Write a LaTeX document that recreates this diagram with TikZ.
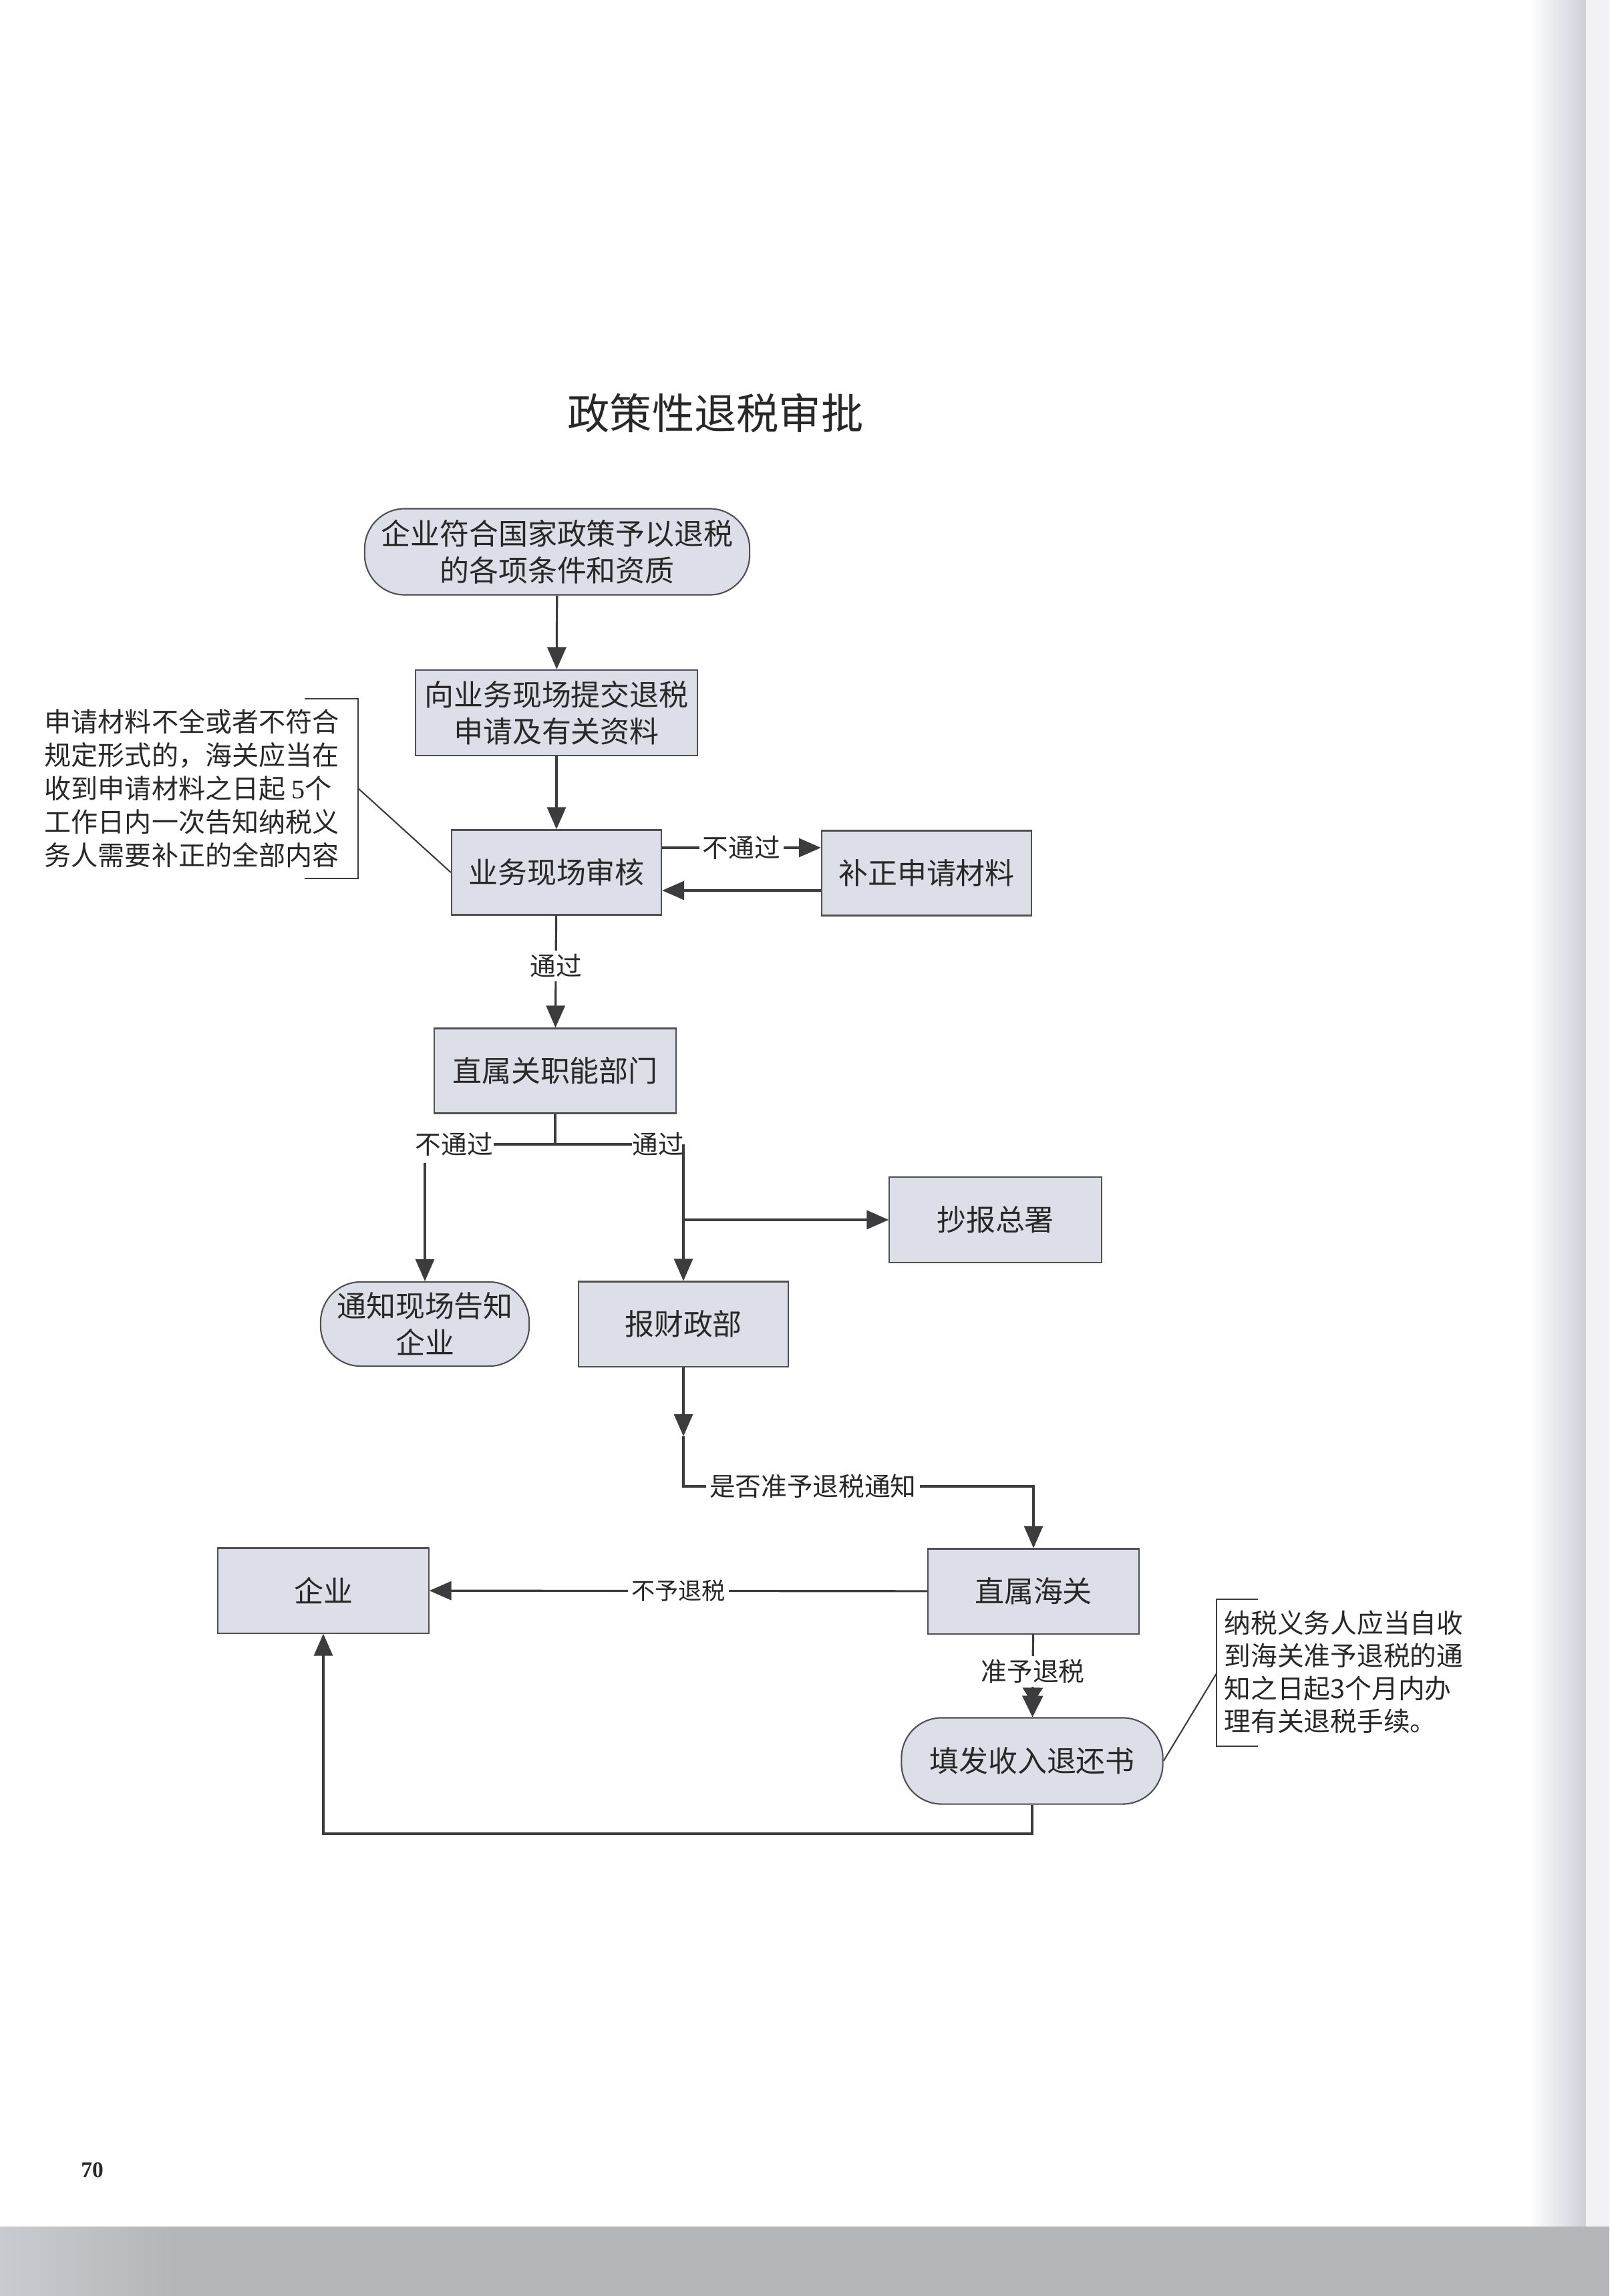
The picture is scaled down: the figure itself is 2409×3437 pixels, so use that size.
\documentclass[tikz,border=0pt]{standalone}
\usepackage{fontspec}
\setmainfont{Noto Sans CJK SC}
\newfontfamily\numfont{Liberation Serif}
\usetikzlibrary{arrows.meta,calc}
\definecolor{boxfill}{RGB}{220,222,232}
\definecolor{boxline}{RGB}{80,80,84}
\definecolor{connc}{RGB}{60,60,62}
\definecolor{txt}{RGB}{40,40,40}
\definecolor{band}{RGB}{180,183,185}
\definecolor{bandl}{RGB}{200,204,208}
\definecolor{edge}{RGB}{206,208,216}
\definecolor{edgel}{RGB}{242,242,246}
\begin{document}
\begin{tikzpicture}[x=0.01cm,y=-0.01cm,
  box/.style={draw=boxline, line width=0.6pt, fill=boxfill, minimum height=1.27cm,
    inner sep=0pt, align=center, text=txt, font=\fontsize{12.5pt}{15.6pt}\selectfont},
  term/.style={box, rounded corners=0.6cm},
  conn/.style={draw=connc, line width=0.9pt},
  arr/.style={conn, -{Triangle[length=3.3mm,width=2.8mm]}},
  lbl/.style={fill=white, inner sep=1.5pt, text=txt, font=\fontsize{11pt}{13pt}\selectfont},
  notetext/.style={align=left, text=txt, inner sep=0pt},
  brk/.style={draw=connc, line width=0.6pt}
]
% page
\useasboundingbox (0,0) rectangle (2409,3437);
\fill[white] (0,0) rectangle (2409,3437);
\shade[left color=white, right color=edge] (2290,0) rectangle (2374,3333);
\fill[edgel] (2374,0) rectangle (2409,3333);
\fill[band] (0,3333) rectangle (2409,3437);
\shade[left color=bandl, right color=band] (0,3333) rectangle (260,3437);

% title
\node[text=txt, font=\fontsize{18pt}{20pt}\selectfont] (title) at (1071,618) {政策性退税审批};

% nodes
\node[term, minimum width=5.76cm, minimum height=1.29cm] (start) at (834,826) {企业符合国家政策予以退税\\的各项条件和资质};
\node[box, minimum width=4.22cm, minimum height=1.28cm] (submit) at (833,1067) {向业务现场提交退税\\申请及有关资料};
\node[box, minimum width=3.14cm] (review) at (833,1306) {业务现场审核};
\node[box, minimum width=3.14cm] (fix) at (1387,1307) {补正申请材料};
\node[box, minimum width=3.61cm] (dept) at (831,1603) {直属关职能部门};
\node[box, minimum width=3.17cm, minimum height=1.28cm] (hq) at (1490,1826) {抄报总署};
\node[term, minimum width=3.12cm, minimum height=1.26cm] (notify) at (636,1982) {通知现场告知\\企业};
\node[box, minimum width=3.14cm] (mof) at (1023,1982) {报财政部};
\node[box, minimum width=3.15cm] (customs) at (1547,2382) {直属海关};
\node[box, minimum width=3.15cm] (ent) at (484,2381) {企业};
\node[term, minimum width=3.91cm, minimum height=1.29cm] (refund) at (1545,2636) {填发收入退还书};

% connectors
\draw[arr] (start) -- (submit);
\draw[arr] (submit) -- (review);
\draw[arr] ($(review.east)+(0,-37)$) -- node[lbl, pos=0.5]{不通过} ($(fix.west)+(0,-38)$);
\draw[arr] ($(fix.west)+(0,26)$) -- ($(review.east)+(0,27)$);
\draw[arr] (review) -- node[lbl, pos=0.45]{通过} (dept);

% branch below dept
\coordinate (j) at (dept.south |- 0,1713);
\node[lbl, fill=none, inner sep=0pt] (no) at (680,1713) {不通过};
\node[lbl, fill=none, inner sep=0pt] (yes) at (985,1713) {通过};
\draw[conn] (dept) -- (j);
\draw[conn, line width=1.2pt] (no.east) -- (yes.west);
\draw[arr] ($(no.south -| notify.north)+(0,10)$) -- (notify);
\draw[arr] (yes.east -| mof.north) -- (mof);
\draw[arr] (hq.west -| mof.north) -- (hq);

% mof to customs
\coordinate (c1) at (mof.south |- 0,2150);
\coordinate (c2) at (mof.south |- 0,2225);
\draw[arr] (mof) -- (c1);
\draw[arr] (c1) -- (c2) -- node[lbl, pos=0.37]{是否准予退税通知} (c2 -| customs.north) -- (customs);

% customs outputs
\draw[arr] (customs) -- node[lbl, pos=0.5, font=\fontsize{10pt}{12pt}\selectfont]{不予退税} (ent);
\draw[conn, -{Triangle[length=2.4mm,width=3mm,sep=-1.2mm]Triangle[length=3.2mm,width=3.1mm]}] (customs) -- node[lbl, pos=0.45]{准予退税} (refund);
\coordinate (b1) at (refund.south |- 0,2745);
\draw[arr] (refund) -- (b1) -| (ent);

% left note
\node[notetext, anchor=west, font=\fontsize{11.4pt}{14.2pt}\selectfont] (n1) at (66,1180)
  {申请材料不全或者不符合\\规定形式的，海关应当在\\收到申请材料之日起 {\numfont 5}个\\工作日内一次告知纳税义\\务人需要补正的全部内容};
\draw[brk] (456,1046) -- (536,1046) -- (536,1315) -- (456,1315);
\coordinate (bk1) at (536,1180);
\draw[brk] (bk1) -- (review.west);

% right note
\node[notetext, anchor=west, font=\fontsize{11.3pt}{13.9pt}\selectfont] (n2) at (1832,2503)
  {纳税义务人应当自收\\到海关准予退税的通\\知之日起3个月内办\\理有关退税手续。};
\draw[brk] (1883,2394) -- (1821,2394) -- (1821,2614) -- (1883,2614);
\coordinate (bk2) at (1821,2505);
\draw[brk] (refund.east) -- (bk2);

% page number
\node[text=txt, font=\fontsize{9.5pt}{10pt}\selectfont] (pg) at (138,3249) {\numfont\bfseries 70};
\end{tikzpicture}
\end{document}
